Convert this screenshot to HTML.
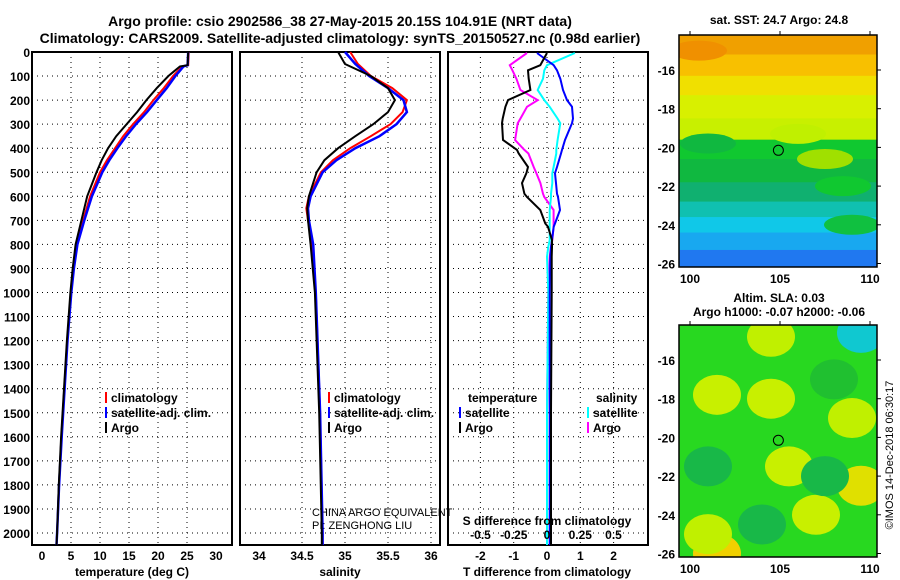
<!DOCTYPE html>
<html><head><meta charset="utf-8"><style>
body{margin:0;background:#fff;}
svg{display:block;font-family:"Liberation Sans",sans-serif;font-weight:bold;}
</style></head><body>
<svg id="c" width="900" height="580">
<text x="340" y="26" text-anchor="middle" font-size="14">Argo profile: csio 2902586_38 27-May-2015 20.15S 104.91E (NRT data)</text>
<text x="340" y="43" text-anchor="middle" font-size="14">Climatology: CARS2009. Satellite-adjusted climatology: synTS_20150527.nc (0.98d earlier)</text>
<text x="779" y="24" text-anchor="middle" font-size="12">sat. SST: 24.7 Argo: 24.8</text>
<text x="779" y="302" text-anchor="middle" font-size="12">Altim. SLA: 0.03</text>
<text x="779" y="316" text-anchor="middle" font-size="12">Argo h1000: -0.07 h2000: -0.06</text>
<text transform="translate(893,455) rotate(-90)" text-anchor="middle" font-size="11" font-weight="normal">©IMOS 14-Dec-2018 06:30:17</text>
<text x="312" y="516" font-size="11" font-weight="normal">CHINA ARGO EQUIVALENT</text>
<text x="312" y="529" font-size="11" font-weight="normal">PI: ZENGHONG LIU</text>
</svg>
<script>
const depthTicks=[0,100,200,300,400,500,600,700,800,900,1000,1100,1200,1300,1400,1500,1600,1700,1800,1900,2000];
const tDepth=[0,55,60,80,100,150,200,250,300,350,400,450,500,600,700,800,900,1000,1200,1400,1600,1800,2000,2050];
const tArgo=[25.2,25.1,23.8,22.8,21.8,19.8,18,16.4,14.6,12.8,11.4,10.3,9.4,7.8,6.8,5.8,5.3,4.9,4.3,3.8,3.3,2.9,2.6,2.5];
const tClim=[25.3,25.2,24.2,23.4,22.6,21,19.2,17.6,15.7,14,12.6,11.2,10,8.3,7.1,6,5.4,5,4.35,3.85,3.35,2.95,2.6,2.5];
const tSat=[25.2,25.1,24.4,23.7,23,21.5,19.8,18.1,16.2,14.5,13,11.6,10.4,8.6,7.3,6.1,5.5,5.05,4.4,3.9,3.4,2.95,2.6,2.5];
const sDepth=[0,50,100,150,200,250,300,350,400,450,500,600,650,700,800,1000,1500,2000,2050];
const sArgo=[34.92,35.0,35.3,35.5,35.58,35.5,35.33,35.12,34.92,34.76,34.67,34.58,34.56,34.57,34.6,34.65,34.7,34.73,34.73];
const sClim=[35.06,35.15,35.3,35.55,35.72,35.67,35.53,35.3,35.06,34.86,34.72,34.58,34.55,34.57,34.62,34.66,34.71,34.74,34.74];
const sSat=[35.0,35.12,35.28,35.5,35.68,35.72,35.6,35.4,35.12,34.9,34.74,34.6,34.57,34.58,34.63,34.66,34.71,34.74,34.74];
const dDepth=[4,55,76,111,158,200,228,277,296,366,407,422,478,504,545,589,603,657,713,727,782,810,851,1000,1500,2050];
const dTArgo=[0,-0.2,-0.57,-0.55,-0.5,-1.17,-1.25,-1.33,-1.35,-1.32,-0.9,-0.85,-0.57,-0.62,-0.75,-0.68,-0.6,-0.2,-0.05,0.03,0.15,0.15,0.14,0.14,0.12,0.12];
const dTSat=[-0.3,0.2,0.3,0.4,0.48,0.6,0.75,0.78,0.75,0.54,0.45,0.42,0.3,0.24,0.27,0.3,0.33,0.39,0.24,0.2,0.15,0.12,0.1,0.08,0.08,0.08];
const dSArgo=[-0.15,-0.28,-0.26,-0.23,-0.2,-0.07,-0.15,-0.2,-0.22,-0.24,-0.17,-0.14,-0.1,-0.08,-0.05,-0.03,-0.02,0.05,0.05,0.05,0.04,0.03,0.02,0.01,0,0];
const dSSat=[0.21,0,-0.02,-0.03,-0.07,-0.02,0.02,0.08,0.1,0.08,0.07,0.07,0.05,0.04,0.04,0.03,0.03,0.02,0.02,0.02,0.02,0.01,0,0.01,0,0];
const tTicks=[0,5,10,15,20,25,30];
const sTicks=[34,34.5,35,35.5,36];
const dTTicks=[-2,-1,0,1,2];
const dSTicks=[-0.5,-0.25,0,0.25,0.5];
const latTicks=[-16,-18,-20,-22,-24,-26];
const lonTicks=[100,105,110];
const sstBandLat=[-14,-15.2,-16.3,-17.3,-18.5,-19.6,-20.6,-21.8,-22.8,-23.6,-24.4,-25.3];
const sstBandColor=['#f0a000','#f8c000','#f0e000','#d8f000','#c8f000','#10c830','#10b840','#10b070','#10c0b0','#10c8e8','#18a8f0','#2078f0'];
const sstPatchLon=[106,107.5,108.5,100.5,101,109];
const sstPatchLat=[-19.3,-20.6,-22,-15,-19.8,-24];
const sstPatchColor=['#c0f000','#a0e000','#10c830','#f09000','#10b840','#10c040'];
const slaBlobLon=[101.5,104.5,101,104,108,105.5,107,109.5,101.5,109.5,104.5,107.5,101,109];
const slaBlobLat=[-17.8,-18,-21.5,-24.5,-17,-21.5,-24,-22.5,-26,-14.6,-14.8,-22,-25,-19];
const slaBlobColor=['#c8f000','#c8f000','#18b848','#18b848','#20c030','#c8f000','#c8f000','#e0e000','#f0d000','#10c8d0','#c0f000','#18b848','#c0f000','#c0f000'];

const NS='http://www.w3.org/2000/svg', svg=document.getElementById('c');
function mk(tag,at,name,parent){const e=document.createElementNS(NS,tag);for(const k in at)e.setAttribute(k,at[k]);


(parent||svg).appendChild(e);return e;}
const Y0=52,YS=0.2405,BOT=545,TOP=52;
const yD=d=>Y0+d*YS;
function panel(x0,x1,name){
  const g=mk('g',{},name);
  mk('rect',{x:x0,y:TOP,width:x1-x0,height:BOT-TOP,fill:'none',stroke:'#000','stroke-width':2},name+'-frame',g);
  depthTicks.forEach(d=>{ if(d>0) mk('line',{x1:x0,x2:x1,y1:yD(d),y2:yD(d),stroke:'#000','stroke-dasharray':'1,4'},name+'-hgrid',g);});
  return g;
}
function vgrid(g,xs,name){xs.forEach(x=>mk('line',{x1:x,x2:x,y1:TOP,y2:BOT,stroke:'#000','stroke-dasharray':'1,4'},name,g));}
function line(g,vals,depths,xf,col,w,name){
  mk('polyline',{points:vals.map((v,i)=>xf(v).toFixed(1)+','+yD(depths[i]).toFixed(1)).join(' '),fill:'none',stroke:col,'stroke-width':w},name,g);}
function txt(s,x,y,anchor,size,name,parent,col){const t=mk('text',{x:x,y:y,'text-anchor':anchor,'font-size':size,fill:col||'#000'},name,parent);t.textContent=s;return t;}

depthTicks.forEach(d=>txt(String(d),30,yD(d)+5,'end',12,'depth-tick-label'));

const xT=v=>42+v*5.8;
const p1=panel(32,232,'temperature-panel');
vgrid(p1,tTicks.slice(1,6).map(xT),'temperature-vgrid');
line(p1,tClim,tDepth,xT,'#f00',2,'temperature-climatology-line');
line(p1,tSat,tDepth,xT,'#00f',2.5,'temperature-satellite-line');
line(p1,tArgo,tDepth,xT,'#000',2,'temperature-argo-line');
tTicks.forEach(v=>txt(String(v),xT(v),560,'middle',12,'temperature-tick-label'));
txt('temperature (deg C)',132,576,'middle',12,'temperature-axis-title');

const xS=v=>259+(v-34)*86;
const p2=panel(240,440,'salinity-panel');
vgrid(p2,sTicks.slice(1).map(xS),'salinity-vgrid');
line(p2,sClim,sDepth,xS,'#f00',2,'salinity-climatology-line');
line(p2,sSat,sDepth,xS,'#00f',2.5,'salinity-satellite-line');
line(p2,sArgo,sDepth,xS,'#000',2,'salinity-argo-line');
sTicks.forEach(v=>txt(String(v),xS(v),560,'middle',12,'salinity-tick-label'));
txt('salinity',340,576,'middle',12,'salinity-axis-title');

const xDT=v=>547+v*33.3, xDS=v=>547+v*133;
const p3=panel(448,648,'difference-panel');
vgrid(p3,dTTicks.map(xDT),'difference-vgrid');
line(p3,dSArgo,dDepth,xDS,'#f0f',2,'salinity-diff-argo-line');
line(p3,dSSat,dDepth,xDS,'#0ff',2,'salinity-diff-satellite-line');
line(p3,dTSat,dDepth,xDT,'#00f',2,'temperature-diff-satellite-line');
line(p3,dTArgo,dDepth,xDT,'#000',2,'temperature-diff-argo-line');
dTTicks.forEach(v=>txt(String(v),xDT(v),560,'middle',12,'t-diff-tick-label'));
dSTicks.forEach(v=>txt(String(v),xDS(v),539,'middle',12,'s-diff-tick-label'));
txt('S difference from climatology',547,525,'middle',12,'s-diff-axis-title');
txt('T difference from climatology',547,576,'middle',12,'t-diff-axis-title');

function leg(x,y,col,label,name){mk('line',{x1:x,x2:x,y1:y-10,y2:y+1,stroke:col,'stroke-width':2},name+'-swatch');txt(label,x+5,y,'start',12,name);}
[['#f00','climatology'],['#00f','satellite-adj. clim.'],['#000','Argo']].forEach((e,i)=>{
  leg(106,402+i*15,e[0],e[1],'temperature-legend-entry');leg(329,402+i*15,e[0],e[1],'salinity-legend-entry');});
txt('temperature',468,402,'start',12,'diff-legend-temperature-header');
txt('salinity',596,402,'start',12,'diff-legend-salinity-header');
leg(460,417,'#00f','satellite','diff-legend-t-satellite');leg(460,432,'#000','Argo','diff-legend-t-argo');
leg(588,417,'#0ff','satellite','diff-legend-s-satellite');leg(588,432,'#f0f','Argo','diff-legend-s-argo');

function map(y0,y1,yTop16,name){
  const x0=679,x1=877,h=y1-y0;
  const xL=l=>690+(l-100)*18, yL=l=>yTop16+(-16-l)*19.35;
  const g=mk('g',{},name);
  const clip=mk('clipPath',{id:name+'-clip'},name+'-clip',g);
  mk('rect',{x:x0,y:y0,width:x1-x0,height:h},name+'-clip-rect',clip);
  const inner=mk('g',{'clip-path':'url(#'+name+'-clip)'},name+'-field',g);
  return {g,inner,xL,yL,x0,x1,y0,h};
}
function mapAxes(m,name){
  mk('rect',{x:m.x0,y:m.y0,width:m.x1-m.x0,height:m.h,fill:'none',stroke:'#000','stroke-width':1.5},name+'-frame',m.g);
  latTicks.forEach(l=>{txt(String(l),675,m.yL(l)+5,'end',12,name+'-lat-label',m.g);
    mk('line',{x1:m.x1,x2:m.x1+4,y1:m.yL(l),y2:m.yL(l),stroke:'#000'},name+'-lat-tick',m.g);});
  lonTicks.forEach(l=>{txt(String(l),m.xL(l),m.y0+m.h+16,'middle',12,name+'-lon-label',m.g);
    mk('line',{x1:m.xL(l),x2:m.xL(l),y1:m.y0-4,y2:m.y0,stroke:'#000'},name+'-lon-tick',m.g);});
  mk('circle',{cx:m.xL(104.91),cy:m.yL(-20.15),r:5,fill:'none',stroke:'#000','stroke-width':1},name+'-argo-location',m.g);
}
const m1=map(35,267,70,'sst-map');
sstBandLat.forEach((l,i)=>mk('rect',{x:m1.x0,y:m1.yL(l),width:m1.x1-m1.x0,height:80,fill:sstBandColor[i]},'sst-band',m1.inner));
sstPatchLon.forEach((l,i)=>mk('ellipse',{cx:m1.xL(l),cy:m1.yL(sstPatchLat[i]),rx:28,ry:10,fill:sstPatchColor[i]},'sst-patch',m1.inner));
mapAxes(m1,'sst-map');
const m2=map(325,557,360,'sla-map');
mk('rect',{x:m2.x0,y:m2.y0,width:198,height:232,fill:'#28d820'},'sla-background',m2.inner);
slaBlobLon.forEach((l,i)=>mk('ellipse',{cx:m2.xL(l),cy:m2.yL(slaBlobLat[i]),rx:24,ry:20,fill:slaBlobColor[i]},'sla-anomaly-patch',m2.inner));
mapAxes(m2,'sla-map');
</script>
</body></html>
